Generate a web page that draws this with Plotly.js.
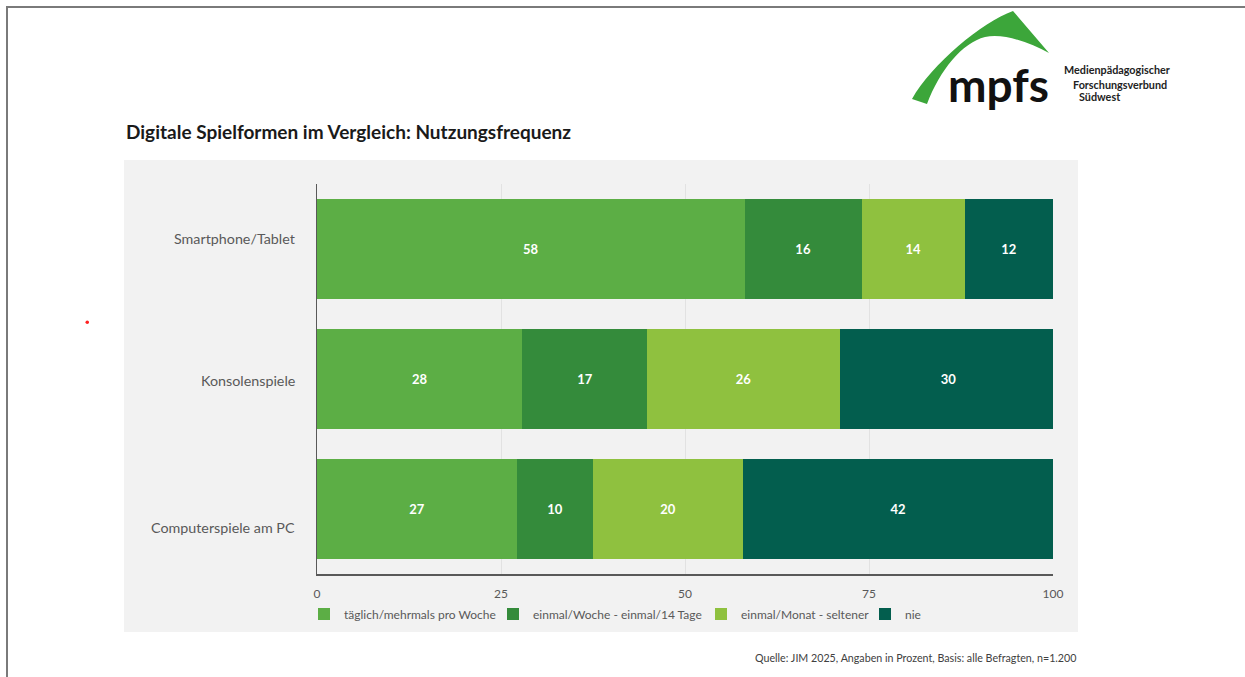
<!DOCTYPE html>
<html>
<head>
<meta charset="utf-8">
<script src="https://cdn.plot.ly/plotly-3.0.1.min.js"></script>
<style>
  html, body { margin: 0; padding: 0; background: #ffffff; }
  #wrap { position: relative; width: 1245px; height: 677px; overflow: hidden; }
  #chart { position: absolute; left: 0; top: 0; width: 1245px; height: 677px; }
  #frame { position: absolute; left: 6px; top: 6px; width: 1245px; height: 677px;
           border-top: 2px solid #7a7a7a; border-left: 2px solid #7a7a7a; pointer-events: none; }
  #swoosh { position: absolute; left: 0; top: 0; pointer-events: none; }
</style>
</head>
<body>
<div id="wrap">
  <div id="chart"></div>
  <svg id="swoosh" width="1245" height="677">
    <path d="M 912,99 C 932,64 982,22 1013,11 L 1049,53 C 1030,43 1005,33 985,37 C 962,43 940,70 927,104 Z" fill="#3ca63a"/>
  </svg>
  <div id="frame"></div>
</div>
<script>
// ---- data ----
const categories = ["Smartphone/Tablet", "Konsolenspiele", "Computerspiele am PC"];
const seriesNames = ["täglich/mehrmals pro Woche", "einmal/Woche - einmal/14 Tage", "einmal/Monat - seltener", "nie"];
const taeglich = [58.1, 27.9, 27.2];
const woechentlich = [15.9, 17.0, 10.3];
const monatlich = [14.0, 26.1, 20.4];
const nie = [12.0, 29.6, 42.1];
const xTickVals = [0, 25, 50, 75, 100];
const xTickText = ["0", "25", "50", "75", "100"];
const titleText = "Digitale Spielformen im Vergleich: Nutzungsfrequenz";
const sourceText = "Quelle: JIM 2025, Angaben in Prozent, Basis: alle Befragten, n=1.200";

const seriesValues = [taeglich, woechentlich, monatlich, nie];
const colors = ["#5cae45", "#348b3b", "#8fc13f", "#035e4e"];
// layout only: vertical offsets (px) of the category labels, and left edges (px) of the legend entries
const labelShift = [11, -1, -18];
const legendLeft = [304, 493, 701, 865];

const FONT = "Lato, 'Open Sans', sans-serif";
const legendIds = ["legend", "legend2", "legend3", "legend4"];

const traces = seriesValues.map((vals, i) => ({
  type: "bar",
  orientation: "h",
  name: seriesNames[i],
  legend: legendIds[i],
  y: categories,
  x: vals,
  marker: { color: colors[i], line: { width: 0 } },
  text: vals.map(v => Math.round(v)),
  texttemplate: "%{text}",
  textposition: "inside",
  insidetextanchor: "middle",
  textangle: 0,
  constraintext: "none",
  textfont: { family: FONT, size: 13, color: "#ffffff", weight: "bold" },
  hoverinfo: "x+name"
}));

// plot area geometry (pixels) for paper-coordinate decorations
const L = 317, R = 1053, T = 184, B = 574;
const px = x => (x - L) / (R - L);
const py = y => (B - y) / (B - T);

const catLabels = categories.map((c, i) => ({
  text: c, xref: "paper", yref: "y", x: px(297), y: c,
  xanchor: "right", yanchor: "middle", yshift: labelShift[i], showarrow: false,
  font: { family: FONT, size: 14.3, color: "#595959" }
}));

const layout = {
  width: 1245,
  height: 677,
  margin: { l: L, r: 1245 - R, t: T, b: 677 - B, pad: 0 },
  paper_bgcolor: "#ffffff",
  plot_bgcolor: "rgba(0,0,0,0)",
  barmode: "stack",
  bargap: 0.226,
  showlegend: true,
  font: { family: FONT, color: "#595959", size: 12 },
  xaxis: {
    range: [0, 100],
    tickvals: xTickVals,
    ticktext: xTickText,
    showgrid: true,
    gridcolor: "#e2e2e2",
    gridwidth: 1,
    zeroline: false,
    showline: true,
    linecolor: "#595959",
    linewidth: 1.5,
    ticks: "outside",
    ticklen: 8,
    tickcolor: "rgba(0,0,0,0)",
    tickfont: { family: FONT, size: 12, color: "#595959" },
    fixedrange: true
  },
  yaxis: {
    type: "category",
    autorange: "reversed",
    showgrid: false,
    zeroline: false,
    showline: true,
    linecolor: "#595959",
    linewidth: 1.5,
    showticklabels: false,
    ticks: "",
    fixedrange: true
  },
  shapes: [
    { type: "rect", xref: "paper", yref: "paper", layer: "below",
      x0: px(124), x1: px(1078), y0: py(632), y1: py(160),
      fillcolor: "#f2f2f2", line: { width: 0 } },
    { type: "circle", xref: "paper", yref: "paper",
      x0: px(85.5), x1: px(89), y0: py(324), y1: py(320.5),
      fillcolor: "#ff2020", line: { width: 0 } }
  ],
  annotations: catLabels.concat([
    { text: titleText, xref: "paper", yref: "paper", x: px(124), y: py(131),
      xanchor: "left", yanchor: "middle", showarrow: false,
      font: { family: FONT, size: 19, color: "#1a1a1a", weight: "bold" } },
    { text: sourceText, xref: "paper", yref: "paper", x: px(1078), y: py(657),
      xanchor: "right", yanchor: "middle", showarrow: false,
      font: { family: FONT, size: 10.7, color: "#404040" } },
    { text: "mpfs", xref: "paper", yref: "paper", x: px(946), y: py(84),
      xanchor: "left", yanchor: "middle", showarrow: false,
      font: { family: FONT, size: 46, color: "#111111", weight: "bold" } },
    { text: "Medienpädagogischer", xref: "paper", yref: "paper", x: px(1062), y: py(70),
      xanchor: "left", yanchor: "middle", showarrow: false,
      font: { family: FONT, size: 10.8, color: "#222222", weight: "bold" } },
    { text: "Forschungsverbund", xref: "paper", yref: "paper", x: px(1071), y: py(84),
      xanchor: "left", yanchor: "middle", showarrow: false,
      font: { family: FONT, size: 10.8, color: "#222222", weight: "bold" } },
    { text: "Südwest", xref: "paper", yref: "paper", x: px(1077), y: py(97),
      xanchor: "left", yanchor: "middle", showarrow: false,
      font: { family: FONT, size: 10.8, color: "#222222", weight: "bold" } }
  ])
};

legendIds.forEach((id, i) => {
  layout[id] = {
    orientation: "h",
    x: px(legendLeft[i]),
    xanchor: "left",
    y: py(614),
    yanchor: "middle",
    font: { family: FONT, size: 12, color: "#595959" },
    bgcolor: "rgba(0,0,0,0)",
    itemwidth: 30
  };
});

Plotly.newPlot("chart", traces, layout, { displayModeBar: false, staticPlot: true });
</script>
</body>
</html>
